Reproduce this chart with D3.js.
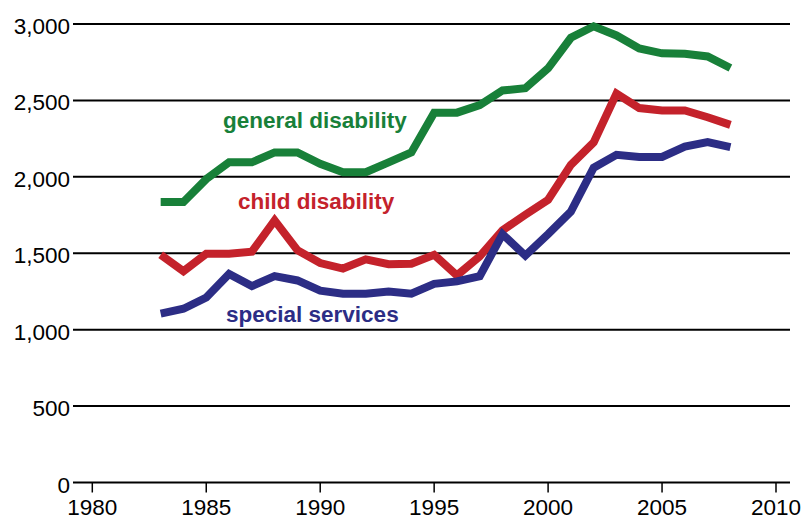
<!DOCTYPE html>
<html>
<head>
<meta charset="utf-8">
<script src="https://cdn.jsdelivr.net/npm/d3@7"></script>
<style>
  body { margin: 0; background: #fff; }
  svg { display: block; font-family: "Liberation Sans", Arial, sans-serif; }
</style>
</head>
<body>
<svg id="chart" width="803" height="518"></svg>
<script>
// data
const years = d3.range(1983, 2009);
const general = [1835, 1835, 1985, 2095, 2095, 2160, 2160, 2085, 2030, 2030, 2095, 2160,
  2420, 2420, 2470, 2565, 2580, 2710, 2910, 2985, 2925, 2840, 2808, 2805, 2788, 2712];
const child = [1490, 1382, 1497, 1497, 1510, 1715, 1520, 1436, 1400, 1460, 1428, 1431,
  1490, 1355, 1480, 1650, 1752, 1850, 2078, 2225, 2545, 2450, 2434, 2434, 2390, 2340];
const special = [1105, 1137, 1210, 1364, 1285, 1350, 1322, 1255, 1235, 1235, 1250, 1235,
  1300, 1316, 1350, 1625, 1485, 1625, 1772, 2060, 2144, 2130, 2130, 2198, 2228, 2194];
const yTicks = [0, 500, 1000, 1500, 2000, 2500, 3000];
const xTicks = [1980, 1985, 1990, 1995, 2000, 2005, 2010];

const series = [
  {name: "general disability", vals: general, color: "#188039", lx: 223, ly: 128},
  {name: "child disability", vals: child, color: "#c4222b", lx: 238, ly: 209},
  {name: "special services", vals: special, color: "#2c2d85", lx: 226, ly: 322}
];

const svg = d3.select("#chart");
const x = d3.scaleLinear().domain([1980, 2010]).range([92.3, 776]);
const y = d3.scaleLinear().domain([0, 3000]).range([482.5, 24]);
const left = 73, right = 790;

// horizontal grid lines
svg.append("g")
  .selectAll("line")
  .data(yTicks)
  .join("line")
    .attr("x1", left)
    .attr("x2", right)
    .attr("y1", d => y(d))
    .attr("y2", d => y(d))
    .attr("stroke", "#000")
    .attr("stroke-width", 2);

// y labels
svg.append("g")
  .selectAll("text")
  .data(yTicks)
  .join("text")
    .attr("x", 70)
    .attr("y", d => y(d) + 10)
    .attr("text-anchor", "end")
    .attr("font-size", 22.5)
    .text(d3.format(","));

// x axis ticks + labels (bottom edge clips them a little, as in the original)
const xa = svg.append("g").attr("transform", `translate(0,${y(0)})`);
xa.selectAll("line")
  .data(xTicks)
  .join("line")
    .attr("x1", d => x(d))
    .attr("x2", d => x(d))
    .attr("y1", 0)
    .attr("y2", 10)
    .attr("stroke", "#000")
    .attr("stroke-width", 1.5);
xa.selectAll("text")
  .data(xTicks)
  .join("text")
    .attr("x", d => x(d))
    .attr("y", 32)
    .attr("text-anchor", "middle")
    .attr("font-size", 22.5)
    .text(d => d);

const line = d3.line()
  .x((d, i) => x(years[i]))
  .y(d => y(d));

svg.append("g")
  .selectAll("path")
  .data(series)
  .join("path")
    .attr("d", d => line(d.vals))
    .attr("fill", "none")
    .attr("stroke", d => d.color)
    .attr("stroke-width", 8)
    .attr("stroke-linejoin", "miter");

svg.append("g")
  .selectAll("text")
  .data(series)
  .join("text")
    .attr("x", d => d.lx)
    .attr("y", d => d.ly)
    .attr("fill", d => d.color)
    .attr("font-size", 22.5)
    .attr("font-weight", "bold")
    .text(d => d.name);
</script>
</body>
</html>
